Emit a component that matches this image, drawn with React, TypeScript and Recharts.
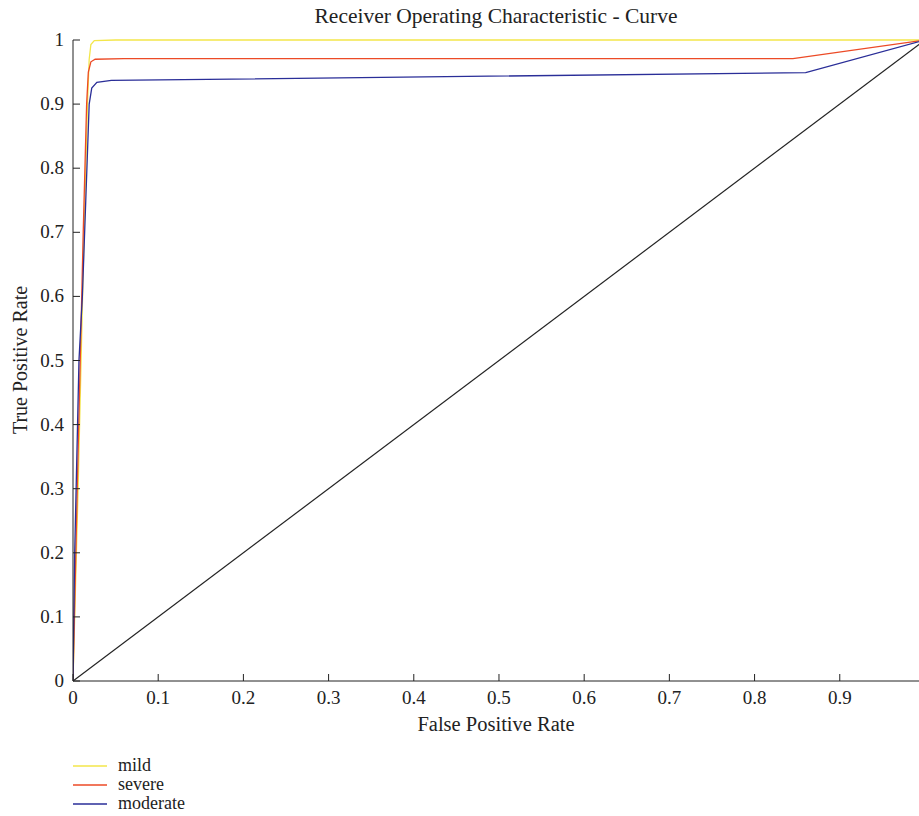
import React from "react";
import { LineChart, Line, XAxis, YAxis } from "recharts";

const xTicks = [0, 0.1, 0.2, 0.3, 0.4, 0.5, 0.6, 0.7, 0.8, 0.9];
const yTicks = [0, 0.1, 0.2, 0.3, 0.4, 0.5, 0.6, 0.7, 0.8, 0.9, 1];

const mild = [
  { x: 0, y: 0 },
  { x: 0.006, y: 0.3 },
  { x: 0.013, y: 0.7 },
  { x: 0.017, y: 0.9 },
  { x: 0.019, y: 0.97 },
  { x: 0.021, y: 0.993 },
  { x: 0.025, y: 0.999 },
  { x: 0.05, y: 1 },
  { x: 1, y: 1 },
];

const severe = [
  { x: 0, y: 0 },
  { x: 0.005, y: 0.3 },
  { x: 0.012, y: 0.7 },
  { x: 0.016, y: 0.9 },
  { x: 0.018, y: 0.95 },
  { x: 0.021, y: 0.966 },
  { x: 0.026, y: 0.97 },
  { x: 0.06, y: 0.971 },
  { x: 0.845, y: 0.971 },
  { x: 1, y: 1 },
];

const moderate = [
  { x: 0, y: 0 },
  { x: 0.002, y: 0.2 },
  { x: 0.007, y: 0.5 },
  { x: 0.011, y: 0.6 },
  { x: 0.015, y: 0.75 },
  { x: 0.019, y: 0.9 },
  { x: 0.022, y: 0.925 },
  { x: 0.028, y: 0.934 },
  { x: 0.045, y: 0.937 },
  { x: 0.86, y: 0.949 },
  { x: 1, y: 1 },
];

const diagonal = [
  { x: 0, y: 0 },
  { x: 1, y: 1 },
];

const legendItems = [
  { name: "mild", color: "#f3e64a" },
  { name: "severe", color: "#ec4a26" },
  { name: "moderate", color: "#2a2e98" },
];

const FONT = "'Liberation Serif', 'DejaVu Serif', serif";

const XTick = (props: any) => {
  const { x, y, payload } = props;
  return (
    <g>
      <line x1={x} y1={y} x2={x} y2={y - 7} stroke="#222" strokeWidth={1} />
      <text x={x} y={y + 23} textAnchor="middle" fontSize={19} fontFamily={FONT} fill="#222">
        {String(payload.value)}
      </text>
    </g>
  );
};

const YTick = (props: any) => {
  const { x, y, payload } = props;
  return (
    <g>
      <line x1={x} y1={y} x2={x + 7} y2={y} stroke="#222" strokeWidth={1} />
      <text x={x - 9} y={y + 6} textAnchor="end" fontSize={19} fontFamily={FONT} fill="#222">
        {String(payload.value)}
      </text>
    </g>
  );
};

export default function App() {
  return (
    <div style={{ position: "absolute", left: 0, top: 0, width: 919, height: 816, background: "#fff", fontFamily: FONT, color: "#222" }}>
      <div
        style={{
          position: "absolute",
          left: 73,
          width: 846,
          top: 3,
          textAlign: "center",
          fontSize: 21.5,
          lineHeight: "26px",
        }}
      >
        Receiver Operating Characteristic - Curve
      </div>
      <LineChart
        width={919}
        height={816}
        margin={{ top: 40, right: 0, left: 13, bottom: 105 }}
      >
        <XAxis
          type="number"
          dataKey="x"
          domain={[0, 0.993]}
          allowDataOverflow
          ticks={xTicks}
          tickSize={0}
          tickMargin={0}
          tickLine={false}
          tick={<XTick />}
          height={30}
          stroke="#222"
        />
        <YAxis
          type="number"
          dataKey="y"
          domain={[0, 1]}
          ticks={yTicks}
          tickSize={0}
          tickMargin={0}
          tickLine={false}
          tick={<YTick />}
          width={60}
          stroke="#222"
        />
        <Line data={diagonal} dataKey="y" stroke="#222" strokeWidth={1.2} dot={false} isAnimationActive={false} legendType="none" />
        <Line data={mild} dataKey="y" name="mild" stroke="#f3e64a" strokeWidth={1.3} dot={false} isAnimationActive={false} />
        <Line data={severe} dataKey="y" name="severe" stroke="#ec4a26" strokeWidth={1.3} dot={false} isAnimationActive={false} />
        <Line data={moderate} dataKey="y" name="moderate" stroke="#2a2e98" strokeWidth={1.3} dot={false} isAnimationActive={false} />
      </LineChart>
      <div
        style={{
          position: "absolute",
          left: 73,
          width: 846,
          top: 711,
          textAlign: "center",
          fontSize: 20.5,
          lineHeight: "26px",
        }}
      >
        False Positive Rate
      </div>
      <div
        style={{
          position: "absolute",
          left: 20 - 150,
          top: 360 - 13,
          width: 300,
          height: 26,
          lineHeight: "26px",
          textAlign: "center",
          fontSize: 20,
          transform: "rotate(-90deg)",
        }}
      >
        True Positive Rate
      </div>
      <div style={{ position: "absolute", left: 73, top: 756, fontSize: 18 }}>
        {legendItems.map((it) => (
          <div key={it.name} style={{ display: "flex", alignItems: "center", height: 19 }}>
            <svg width={34} height={4} style={{ marginRight: 11 }}>
              <line x1={0} y1={2} x2={34} y2={2} stroke={it.color} strokeWidth={1.5} />
            </svg>
            <span style={{ lineHeight: "19px" }}>{it.name}</span>
          </div>
        ))}
      </div>
    </div>
  );
}
